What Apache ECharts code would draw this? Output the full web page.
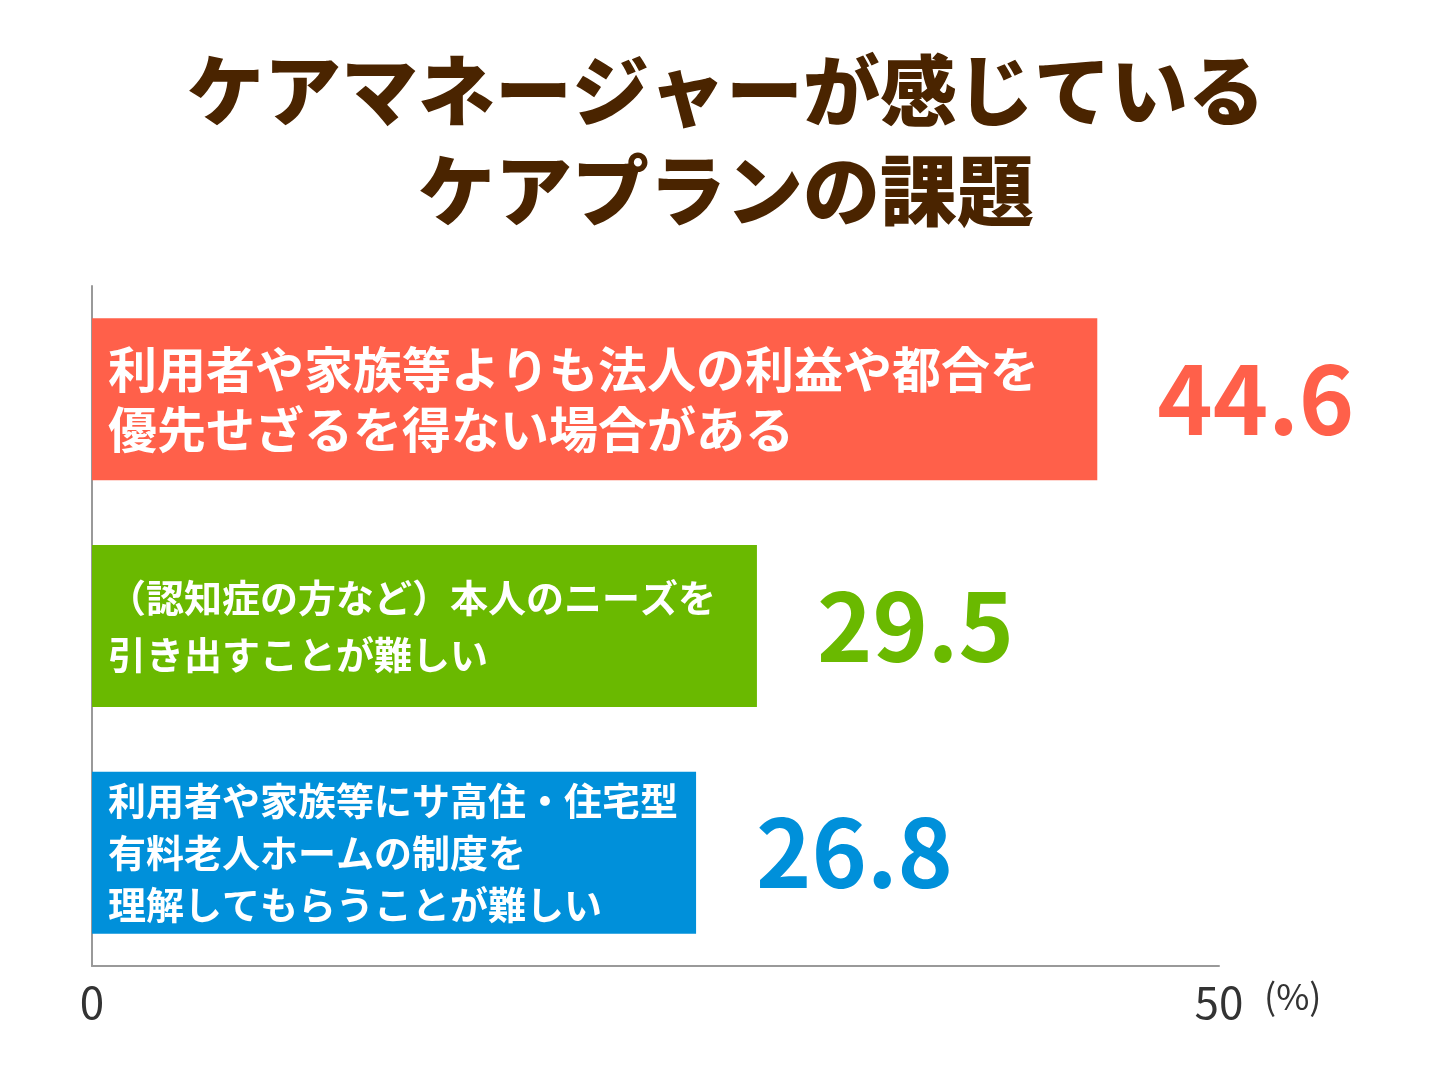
<!DOCTYPE html>
<html lang="ja">
<head>
<meta charset="UTF-8">
<script src="https://cdn.jsdelivr.net/npm/echarts@6/dist/echarts.min.js"></script>
<style>
  html,body{margin:0;padding:0;background:#fff;}
  #chart{width:1452px;height:1089px;}
</style>
</head>
<body>
<div id="chart"></div>
<script>
// データ
const categories = [
  '利用者や家族等よりも法人の利益や都合を\n優先せざるを得ない場合がある',
  '（認知症の方など）本人のニーズを\n引き出すことが難しい',
  '利用者や家族等にサ高住・住宅型\n有料老人ホームの制度を\n理解してもらうことが難しい'
];
const values = [44.6, 29.5, 26.8];
const colors = ['#ff604a', '#6ab900', '#0090da'];
const labelSizes = [49, 38, 38];
const xTicks = [0, 50];

const chart = echarts.init(document.getElementById('chart'));
const fam = '"Noto Sans CJK JP", "Noto Sans", sans-serif';

chart.setOption({
  animation: false,
  title: {
    text: 'ケアマネージャーが感じている\nケアプランの課題',
    left: 'center', top: 36,
    textStyle: {fontFamily: fam, fontSize: 77, fontWeight: 900, color: '#4a2400', lineHeight: 100}
  },
  grid: {left: 92, right: 233, top: 286, bottom: 123},
  xAxis: {
    type: 'value', min: xTicks[0], max: xTicks[1], interval: 50,
    splitLine: {show: false},
    axisLine: {show: true, lineStyle: {color: '#999', width: 2}},
    axisTick: {show: false},
    axisLabel: {fontFamily: fam, fontSize: 44, color: '#333', margin: 14}
  },
  yAxis: {
    type: 'category', data: categories, inverse: true,
    axisLine: {show: true, lineStyle: {color: '#999', width: 2}},
    axisTick: {show: false}, axisLabel: {show: false}
  },
  graphic: [{
    type: 'text', left: 1264, top: 978,
    style: {text: '(%)', font: '36px ' + fam, fill: '#333'}
  }],
  series: [{
    type: 'bar', barWidth: 162,
    data: values.map((v, i) => ({
      value: v,
      itemStyle: {color: colors[i]},
      label: {
        show: true, position: 'insideLeft', distance: 16,
        formatter: () => categories[i],
        fontFamily: fam, fontWeight: 'bold', color: '#fff',
        fontSize: labelSizes[i], lineHeight: i === 0 ? 60 : (i === 1 ? 57 : 52)
      }
    }))
  }, {
    type: 'bar', barWidth: 162, barGap: '-100%',
    data: values.map((v, i) => ({
      value: v,
      itemStyle: {color: 'transparent'},
      label: {
        show: true, position: 'right', distance: 60,
        formatter: '{c}',
        fontFamily: fam, fontWeight: 'bold', color: colors[i], fontSize: 94
      }
    }))
  }]
});
</script>
</body>
</html>
